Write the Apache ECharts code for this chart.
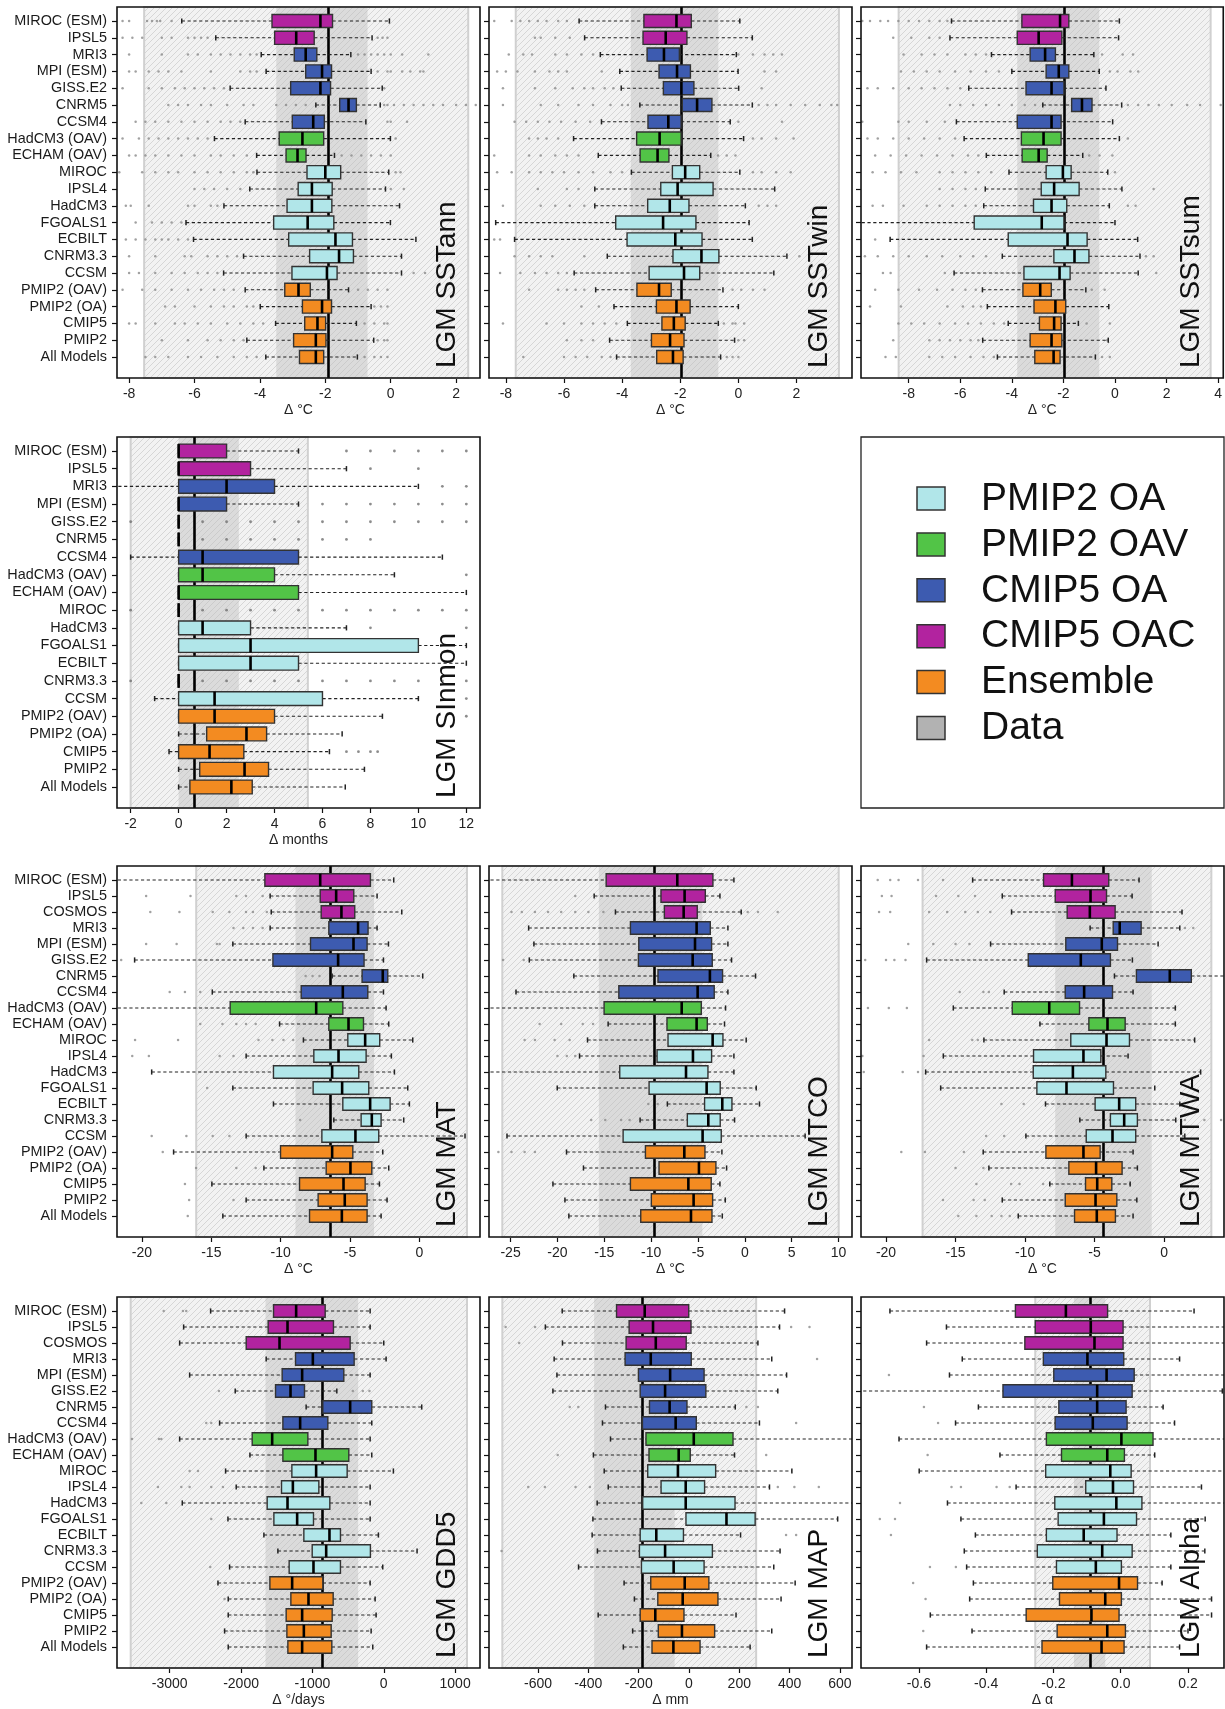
<!DOCTYPE html>
<html><head><meta charset="utf-8">
<script src="https://cdn.jsdelivr.net/npm/echarts@6/dist/echarts.min.js"></script>
<style>html,body{margin:0;padding:0;background:#fff}#c{width:1225px;height:1709px}</style>
</head><body><div id="c"></div>
<script>
// ---------------- categories ----------------
const cats21 = ['MIROC (ESM)','IPSL5','MRI3','MPI (ESM)','GISS.E2','CNRM5','CCSM4','HadCM3 (OAV)','ECHAM (OAV)','MIROC','IPSL4','HadCM3','FGOALS1','ECBILT','CNRM3.3','CCSM','PMIP2 (OAV)','PMIP2 (OA)','CMIP5','PMIP2','All Models'];
const cats20 = ['MIROC (ESM)','IPSL5','MRI3','MPI (ESM)','GISS.E2','CNRM5','CCSM4','HadCM3 (OAV)','ECHAM (OAV)','MIROC','HadCM3','FGOALS1','ECBILT','CNRM3.3','CCSM','PMIP2 (OAV)','PMIP2 (OA)','CMIP5','PMIP2','All Models'];
const cats22 = ['MIROC (ESM)','IPSL5','COSMOS','MRI3','MPI (ESM)','GISS.E2','CNRM5','CCSM4','HadCM3 (OAV)','ECHAM (OAV)','MIROC','IPSL4','HadCM3','FGOALS1','ECBILT','CNRM3.3','CCSM','PMIP2 (OAV)','PMIP2 (OA)','CMIP5','PMIP2','All Models'];

const legendNames = ['PMIP2 OA','PMIP2 OAV','CMIP5 OA','CMIP5 OAC','Ensemble','Data'];
const groupOf = {
  'MIROC (ESM)':'CMIP5 OAC','IPSL5':'CMIP5 OAC','COSMOS':'CMIP5 OAC',
  'MRI3':'CMIP5 OA','MPI (ESM)':'CMIP5 OA','GISS.E2':'CMIP5 OA','CNRM5':'CMIP5 OA','CCSM4':'CMIP5 OA',
  'HadCM3 (OAV)':'PMIP2 OAV','ECHAM (OAV)':'PMIP2 OAV',
  'MIROC':'PMIP2 OA','IPSL4':'PMIP2 OA','HadCM3':'PMIP2 OA','FGOALS1':'PMIP2 OA','ECBILT':'PMIP2 OA','CNRM3.3':'PMIP2 OA','CCSM':'PMIP2 OA',
  'PMIP2 (OAV)':'Ensemble','PMIP2 (OA)':'Ensemble','CMIP5':'Ensemble','PMIP2':'Ensemble','All Models':'Ensemble'
};

// ---------------- panel texts ----------------
const panelLabels = ['LGM SSTann','LGM SSTwin','LGM SSTsum','LGM SInmon','LGM MAT','LGM MTCO','LGM MTWA','LGM GDD5','LGM MAP','LGM Alpha'];
const axisTitles = ['Δ °C','Δ °C','Δ °C','Δ months','Δ °C','Δ °C','Δ °C','Δ °/days','Δ mm','Δ α'];

// ---------------- tick labels & axis extents ----------------
const sstannTicks = [-8,-6,-4,-2,0,2];
const sstwinTicks = [-8,-6,-4,-2,0,2];
const sstsumTicks = [-8,-6,-4,-2,0,2,4];
const sinmonTicks = [-2,0,2,4,6,8,10,12];
const matTicks = [-20,-15,-10,-5,0];
const mtcoTicks = [-25,-20,-15,-10,-5,0,5,10];
const mtwaTicks = [-20,-15,-10,-5,0];
const gdd5Ticks = [-3000,-2000,-1000,0,1000];
const mapTicks = [-600,-400,-200,0,200,400,600];
const alphaTicks = [-0.6,-0.4,-0.2,0.0,0.2];

const sstannExtent = [-8.37, 2.73];
const sstwinExtent = [-8.58, 3.91];
const sstsumExtent = [-9.85, 4.20];
const sinmonExtent = [-2.57, 12.57];
const matExtent = [-21.8, 4.37];
const mtcoExtent = [-27.3, 11.43];
const mtwaExtent = [-21.8, 4.31];
const gdd5Extent = [-3739, 1349];
const mapExtent = [-795, 648];
const alphaExtent = [-0.772, 0.307];

// ---------------- proxy data (range, inter-quartile band, median) ----------------
const sstannObs = [-7.54, -3.50, -1.90, -0.71, 2.37];
const sstwinObs = [-7.66, -3.70, -1.96, -0.69, 3.46];
const sstsumObs = [-8.39, -3.79, -1.96, -0.61, 3.71];
const sinmonObs = [-2.0, 0, 0.67, 2.51, 5.39];
const matObs = [-16.09, -8.93, -6.43, -3.27, 3.43];
const mtcoObs = [-25.88, -15.58, -9.62, -4.54, 10.01];
const mtwaObs = [-17.37, -7.83, -4.34, -0.89, 3.40];
const gdd5Obs = [-3547, -1657, -863, -359, 1167];
const mapObs = [-742, -377, -185, -57, 267];
const alphaObs = [-0.254, -0.139, -0.091, -0.046, 0.087];

// ---------------- model box stats: [low whisker, Q1, median, Q3, high whisker] ----------------
const sstannStats = [
 [-6.39,-3.63,-2.15,-1.78,-0.04],[-5.35,-3.55,-2.89,-2.34,-0.57],[-3.96,-2.95,-2.60,-2.26,-1.22],[-3.81,-2.60,-2.10,-1.81,-0.60],
 [-4.91,-3.06,-2.15,-1.84,-0.26],[-2.29,-1.56,-1.29,-1.05,-0.32],[-4.45,-3.01,-2.37,-2.03,-0.76],[-5.39,-3.41,-2.70,-2.05,-0.01],
 [-4.10,-3.20,-2.85,-2.59,-1.72],[-4.09,-2.56,-2.00,-1.53,-0.06],[-4.31,-2.83,-2.41,-1.79,-0.16],[-5.10,-3.17,-2.41,-1.80,0.27],
 [-6.26,-3.58,-2.54,-1.74,-0.01],[-6.03,-3.12,-1.69,-1.17,0.77],[-4.50,-2.48,-1.58,-1.14,0.33],[-5.11,-3.02,-1.95,-1.64,0.33],
 [-4.45,-3.24,-2.82,-2.46,-1.29],[-3.99,-2.70,-2.10,-1.81,-0.60],[-3.52,-2.63,-2.24,-1.99,-1.05],[-4.40,-2.97,-2.29,-1.98,-0.52],
 [-3.82,-2.79,-2.29,-2.05,-1.02]];
const sstwinStats = [
 [-5.48,-3.25,-2.13,-1.62,0.05],[-5.29,-3.28,-2.50,-1.77,0.48],[-4.75,-3.14,-2.56,-2.03,-0.07],[-4.08,-2.73,-2.11,-1.65,-0.01],
 [-4.03,-2.58,-1.96,-1.53,0.01],[-3.39,-1.93,-1.42,-0.91,0.48],[-4.71,-3.11,-2.41,-1.97,-0.28],[-5.67,-3.50,-2.71,-1.97,0.18],
 [-4.82,-3.38,-2.78,-2.39,-0.95],[-3.68,-2.27,-1.83,-1.33,0.05],[-4.94,-2.67,-2.09,-0.87,1.25],[-4.94,-3.12,-2.36,-1.70,0.24],
 [-8.35,-4.22,-2.59,-1.46,0.37],[-7.70,-3.83,-2.17,-1.25,0.48],[-4.51,-2.25,-1.27,-0.67,1.67],[-5.65,-3.07,-1.87,-1.33,1.22],
 [-4.91,-3.49,-2.73,-2.31,-0.53],[-4.28,-2.82,-2.13,-1.66,0.00],[-3.82,-2.63,-2.22,-1.83,-0.69],[-4.43,-2.99,-2.35,-1.87,-0.13],
 [-4.19,-2.81,-2.25,-1.90,-0.61]];
const sstsumStats = [
 [-6.34,-3.61,-2.13,-1.79,0.17],[-6.40,-3.79,-2.96,-2.06,0.14],[-4.79,-3.29,-2.71,-2.31,-0.82],[-4.00,-2.67,-2.18,-1.79,-0.61],
 [-5.67,-3.45,-2.46,-1.98,-0.35],[-2.80,-1.68,-1.28,-0.89,0.26],[-6.15,-3.79,-2.46,-2.09,-0.09],[-5.85,-3.63,-2.77,-2.09,0.17],
 [-4.99,-3.60,-2.96,-2.63,-1.25],[-4.11,-2.67,-2.02,-1.70,-0.28],[-5.03,-2.86,-2.36,-1.39,0.27],[-5.09,-3.16,-2.46,-1.87,-0.22],
 [-10.5,-5.46,-2.84,-1.98,0.00],[-8.72,-4.14,-1.84,-1.08,0.88],[-4.37,-2.37,-1.57,-1.01,0.97],[-6.24,-3.53,-2.15,-1.74,0.90],
 [-5.14,-3.57,-2.90,-2.47,-1.13],[-4.95,-3.14,-2.31,-1.91,-0.24],[-4.14,-2.93,-2.36,-2.09,-1.42],[-5.13,-3.29,-2.46,-2.06,-0.26],
 [-4.56,-3.11,-2.38,-2.13,-0.76]];
const sinmonStats = [
 [0,0,0,2,5],[0,0,0,3,7],[-3,0,2,4,10],[0,0,0,2,5],[0,0,0,0,0],[0,0,0,0,0],[-2,0,1,5,11],[0,0,1,4,9],[0,0,0,5,12],[0,0,0,0,0],
 [0,0,1,3,7],[0,0,3,10,12],[0,0,3,5,12],[0,0,0,0,0],[-1,0,1.5,6,10],[0,0,1.5,4,8.5],[0,1.17,2.83,3.67,6.82],[-0.4,0,1.29,2.72,6.29],
 [0,0.88,2.75,3.75,7.75],[0,0.47,2.2,3.07,6.95]];
const matStats = [
 [-23,-11.14,-7.15,-3.53,-1.85],[-10.76,-7.15,-6.00,-4.73,-3.05],[-10.68,-7.08,-5.62,-4.66,-1.27],[-10.76,-6.53,-4.42,-3.70,-3.05],
 [-13.45,-7.85,-4.75,-3.77,-2.23],[-20.53,-10.56,-5.86,-3.99,-2.59],[-6.29,-4.13,-2.64,-2.28,0.24],[-14.93,-8.52,-5.52,-3.72,-2.59],
 [-23,-13.64,-7.44,-5.52,-2.40],[-10.08,-6.53,-5.11,-4.03,-2.21],[-8.36,-5.16,-3.91,-2.86,-0.48],[-12.49,-7.61,-5.83,-3.84,-2.02],
 [-19.30,-10.52,-6.29,-4.37,-1.80],[-13.45,-7.66,-5.57,-3.65,-0.84],[-10.52,-5.52,-3.55,-2.11,-0.72],[-6.17,-4.20,-3.43,-2.76,-1.13],
 [-12.49,-7.03,-4.61,-2.93,3.29],[-17.72,-10.01,-6.29,-4.80,-2.64],[-11.21,-6.72,-4.97,-3.43,-2.21],[-14.96,-8.64,-5.47,-3.91,-2.88],
 [-12.49,-7.30,-5.38,-3.77,-2.33],[-14.17,-7.92,-5.59,-3.77,-2.76]];
const mtcoStats = [
 [-29,-14.80,-7.21,-3.41,-1.17],[-16.08,-8.95,-6.43,-4.22,-2.66],[-13.81,-8.59,-6.53,-5.08,-0.39],[-23.07,-12.21,-5.15,-3.69,-1.81],
 [-22.51,-11.32,-5.32,-3.55,-1.81],[-23.00,-11.36,-5.57,-3.48,-1.42],[-18.25,-9.27,-3.73,-2.38,1.14],[-24.42,-13.45,-5.04,-3.27,-1.81],
 [-29,-15.02,-6.74,-4.65,-2.06],[-14.59,-8.31,-5.15,-4.01,-2.17],[-16.79,-8.20,-3.44,-2.34,0.14],[-17.64,-9.37,-5.54,-3.55,-1.17],
 [-29,-13.35,-6.28,-3.94,-1.17],[-20.02,-10.22,-4.08,-2.63,1.21],[-8.27,-4.30,-2.41,-1.38,1.56],[-11.18,-6.14,-3.90,-2.63,-1.10],
 [-25.38,-12.99,-4.51,-2.52,6.43],[-19.03,-10.61,-6.46,-4.26,-2.45],[-17.22,-9.16,-4.90,-3.09,-1.95],[-20.48,-12.21,-6.03,-3.59,-2.66],
 [-19.20,-9.98,-5.47,-3.44,-2.09],[-18.78,-11.11,-5.75,-3.51,-2.41]];
const mtwaStats = [
 [-13.77,-8.67,-6.63,-3.98,-1.80],[-11.64,-7.83,-5.29,-4.14,-2.30],[-10.97,-6.97,-5.34,-3.52,1.29],[-5.32,-3.66,-3.19,-1.65,1.13],
 [-12.48,-7.07,-4.48,-3.35,-0.43],[-17.08,-9.77,-5.99,-3.86,-2.28],[-3.57,-1.99,0.41,1.96,5.0],[-11.50,-7.11,-5.75,-3.71,-2.23],
 [-15.16,-10.92,-8.26,-6.08,0.81],[-8.93,-5.41,-4.07,-2.80,0.81],[-12.96,-6.71,-4.14,-2.49,2.20],[-15.88,-9.39,-5.80,-4.55,-2.59],
 [-17.15,-9.41,-6.56,-4.19,2.63],[-16.07,-9.15,-7.02,-3.64,-0.67],[-8.53,-4.96,-3.23,-2.04,1.13],[-6.06,-3.86,-2.87,-1.92,0.84],
 [-9.94,-5.60,-3.71,-2.04,1.49],[-13.01,-8.50,-5.80,-4.60,-2.23],[-12.60,-6.85,-4.89,-3.02,-1.92],[-8.22,-5.65,-4.81,-3.76,-2.44],
 [-11.64,-7.11,-4.93,-3.40,-1.96],[-10.49,-6.44,-4.84,-3.50,-2.23]];
const gdd5Stats = [
 [-2427,-1545,-1228,-821,-191],[-2805,-1620,-1349,-705,-191],[-2861,-1928,-1461,-471,0],[-1648,-1237,-994,-415,33],
 [-2721,-1424,-1144,-560,-191],[-2082,-1517,-1307,-1111,-658],[-1088,-854,-471,-168,532],[-2301,-1414,-1172,-784,-168],
 [-2861,-1844,-1564,-1064,-191],[-1876,-1414,-957,-490,-168],[-2217,-1288,-948,-513,135],[-2068,-1433,-1274,-910,-191],
 [-2824,-1634,-1349,-756,-191],[-2184,-1540,-1214,-985,-191],[-1680,-1120,-761,-607,-75],[-1484,-1003,-807,-187,467],
 [-2161,-1326,-985,-607,-14],[-2324,-1596,-1284,-854,-191],[-2180,-1302,-1055,-709,-121],[-2180,-1368,-1144,-723,-107],
 [-2231,-1358,-1120,-737,-177],[-2180,-1344,-1144,-728,-154]];
const mapStats = [
 [-504,-288,-176,-1,380],[-571,-238,-143,8,360],[-503,-250,-132,-11,274],[-536,-254,-152,9,329],
 [-525,-201,-75,60,388],[-541,-194,-95,67,353],[-332,-157,-77,-8,184],[-344,-185,-53,29,280],
 [-312,-171,19,175,720],[-380,-159,-41,5,181],[-337,-164,-44,106,409],[-321,-111,-13,62,320],
 [-365,-184,-13,183,720],[-382,-12,149,263,591],[-385,-194,-130,-22,205],[-364,-197,-95,93,362],
 [-439,-189,-61,60,337],[-258,-152,-17,79,422],[-217,-124,-25,115,366],[-361,-194,-134,-20,187],
 [-224,-122,-28,102,329],[-261,-147,-62,44,243]];
const alphaStats = [
 [-0.686,-0.313,-0.163,-0.039,0.218],[-0.518,-0.254,-0.089,0.007,0.35],[-0.577,-0.285,-0.078,0.007,0.35],[-0.471,-0.230,-0.099,0.009,0.175],
 [-0.509,-0.199,-0.042,0.040,0.35],[-0.80,-0.350,-0.070,0.034,0.302],[-0.423,-0.184,-0.070,0.016,0.126],[-0.491,-0.195,-0.083,0.019,0.160],
 [-0.659,-0.221,0.002,0.096,0.35],[-0.359,-0.176,-0.040,0.011,0.101],[-0.599,-0.223,-0.031,0.031,0.35],[-0.311,-0.104,-0.023,0.038,0.240],
 [-0.515,-0.196,-0.013,0.063,0.35],[-0.475,-0.186,-0.050,0.047,0.251],[-0.432,-0.221,-0.110,-0.011,0.149],[-0.465,-0.248,-0.055,0.034,0.25],
 [-0.458,-0.191,-0.074,0.002,0.149],[-0.438,-0.202,-0.005,0.050,0.123],[-0.449,-0.182,-0.046,0.002,0.27],[-0.566,-0.281,-0.087,-0.005,0.27],
 [-0.442,-0.189,-0.040,0.014,0.200],[-0.577,-0.234,-0.057,0.010,0.175]];

// ---------------- outliers (per row) ----------------
const sstannOut = [
 [-8.2,-8.0,-7.45,-7.3,-7.15,-7.05,-6.7],[-8.2,-7.9,-7.6,-7.0,-6.7,-6.2,-6.0,-5.8,-5.6,-0.4,-0.25,-0.1],
 [-8.0,-7.0,-6.2,-5.9,-5.5,-5.2,-4.9,-4.6,-4.3,-4.1,-1.0,-0.8,-0.6,-0.4,-0.2,0.0,0.35,1.15],
 [-8.0,-7.8,-7.4,-7.1,-6.8,-6.4,-5.5,-4.6,-4.3,-4.1,-0.4,-0.1,0.0,0.35,0.6,0.9,1.0],
 [-8.2,-7.4,-7.0,-6.6,-6.3,-6.0,-5.7,-5.4,-5.1,-0.2],
 [-6.8,-6.5,-6.2,-5.8,-5.5,-5.0,-4.5,-4.2,-3.5,-3.2,-2.9,-2.6,-0.2,-0.1,0.1,0.4,0.7,1.0,1.3,1.6,2.0,2.3,2.6],
 [-7.8,-7.5,-7.2,-6.8,-6.4,-6.0,-5.6,-5.2,-4.9,-4.6,-0.1,0.0,0.5],[-8.2,-7.7,-7.4,-7.1,-6.8,-6.5,-6.2,-5.9,-5.6,0.15],
 [-8.0,-7.8,-7.5,-7.2,-6.8,-6.4,-6.0,-5.5,-5.2,-4.8,-4.4,-1.5,-1.2,-0.9,-0.6,-0.3,0.0],
 [-8.3,-7.6,-7.2,-6.8,-6.5,-6.0,-5.6,-5.2,-4.8,-4.4,-4.2,0.15,0.3],[-6.0,-5.7,-5.4,-5.0,-4.6,0.0,0.4],
 [-8.1,-7.95,-7.4,-6.2,-6.0,-5.5,-5.3],[-7.8,-7.3,-7.0,-6.7,-6.4],[-8.1,-7.8,-7.5,-7.2,-7.0,-6.8,-6.5,-6.2],
 [-8.0,-7.2,-6.3,-6.1,-5.6,-5.3,-5.0,-4.7],[-8.0,-7.7,-7.2,-6.7,-6.3,-5.9,-5.6,-5.3,0.7,1.05],
 [-8.2,-7.6,-7.2,-6.7,-6.2,-5.8,-5.4,-5.1,-4.8,-1.0,-0.7,-0.4,-0.1],[-6.9,-6.6,-6.0,-5.5,-5.1,-4.8,-4.4,-4.2,-0.5,-0.3,-0.1],
 [-8.0,-7.8,-7.2,-6.6,-6.3,-5.9,-5.5,-5.0,-4.6,-4.2,-3.9,-0.8,-0.5,-0.2,-0.1],[-7.0,-6.2,-5.6,-5.2,-4.8,-4.5,-0.4,-0.2,-0.1],
 [-7.5,-7.2,-6.8,-6.2,-5.8,-5.3,-4.8,-4.4,-4.1,-0.8,-0.5,-0.3,-0.1]];
const sstwinOut = [
 [-8.4,-7.8,-7.5,-7.2,-6.9,-6.6,-6.2,-5.9],[-7.0,-6.8,-6.3,-5.8],[-7.9,-7.4,-7.1,-6.3,-5.9,-5.4,-5.0,0.0,0.5,0.9,1.2,1.5],
 [-8.3,-8.0,-7.6,-7.0,-6.5,-6.2,-5.9,-4.7,0.9,1.3],[-8.1,-7.0,-6.3,-5.7,-5.3,-5.0,-4.6,-4.3,0.8],
 [-8.1,-6.8,-6.2,-5.5,-5.0,-4.4,-4.0,-3.8,0.7,1.0,1.3,1.8,2.3,2.8,3.2,3.4],[-7.7,-7.3,-6.9,-6.5,-6.1,-5.6,-5.1,0.0,1.5],
 [-7.2,-6.9,-6.6,-6.2,0.5,0.8,1.3,1.9],[-8.4,-7.2,-6.8,-6.3,-5.9,-5.5,-0.7,-0.4,-0.1],
 [-8.3,-7.8,-7.2,-6.8,-6.4,-6.0,-5.5,-5.0,-4.4,-4.0,0.5,0.8,1.3,1.8],[-6.9,-5.9,-5.5],[-8.1,-6.8,-6.3,-5.8,-5.3,0.7,1.0,1.3],
 [],[-8.4,-8.2],[-7.7,-7.2,-6.8,-6.4,-5.3,2.1],[-8.2,-7.5,-7.0,-6.6,-6.2,-5.9],[-7.2,-6.2,-5.9,-5.6,-5.3,-0.2,0.1,0.5,0.9],
 [-5.4,-4.8],[-8.1,-6.6,-6.0,-5.4,-5.0,-4.6,-4.2,-0.5,-0.2,-0.1,0.2],[-5.9,-5.4,-5.0,0.0,0.2],[-7.4,-6.0,-5.6,-5.2,-4.7,-4.4,-0.4,-0.2,0.0]];
const sstsumOut = [
 [-9.8,-9.5,-9.1,-8.8,-8.4,-8.0,-7.6,-7.2,-6.8,-6.5],[-8.6,-7.9,-7.2,-6.8],[-8.2,-7.5,-7.0,-6.5,-5.8,-5.4,-5.0,-0.5,0.3,0.7],
 [-8.3,-7.8,-7.3,-6.8,-6.2,-5.6,-5.0,-4.5,-0.2,0.1,0.6,0.9],[-9.6,-9.2,-8.6,-8.0,-7.5,-7.0,-6.5,-6.0],
 [-6.4,-6.0,-5.5,-5.0,-4.5,-4.0,-3.5,-3.1,0.5,0.9,1.3,1.7,2.2,2.8,3.3,4.1],[-9.8,-8.4,-8.0,-7.3,-6.6],
 [-9.6,-9.2,-8.6,-8.0,-7.4,-6.8,-6.2,0.5],[-9.3,-8.7,-8.1,-7.5,-6.9,-6.3,-5.7,-5.3,-1.0,-0.6,-0.1],
 [-9.4,-8.9,-8.3,-7.7,-6.8,-6.3,-5.8,-5.3,-4.8,0.0],[-6.8,-6.3,-5.8,-5.4,1.5],[-9.4,-9.0,-8.2,-7.3,-6.8,-6.3,-5.8,-5.4,0.5,0.8],
 [],[-9.3],[-9.7,-9.2,-8.6,-8.0,-7.3,-6.7,-6.0,-5.5,-5.0,1.2,1.5],[-9.0,-8.7,-6.6,1.6],[-9.3,-8.4,-7.6,-6.9,-6.3,-5.8,-5.4,-0.9,-0.4],
 [-9.5,-8.3,-6.5,-5.9,-5.5,-5.2],[-8.4,-7.9,-7.4,-6.8,-6.2,-5.7,-5.2,-4.7,-4.3,-1.1,-0.2],[-8.6,-7.2,-6.8,-6.4,-6.0,-5.6,-5.3,-0.3],
 [-8.9,-8.5,-7.2,-6.7,-6.2,-5.6,-5.1,-4.7,-0.5,-0.2]];
const sinmonOut = [
 [7,8,9,10,11,12],[8,10],[11,12],[6,7,8,9,10,11,12],[-2,1,2,3,4,5,6,7,8,9,10,11,12],[1,2,3,4,5,6,7,8],[],[12],[],
 [-2,1,2,3,4,5,6,7,8,9,10,11,12],[8,12],[],[],[-2,1,2,3,4,5,6,7,8,9,10,11,12],[12],[12],[],[7,7.5,8,8.3],[],[]];
const matOut = [
 [],[-19.7,-16.5,-13.2,-12.5,-11.3],[-19.4,-17.3,-14.9,-13.7,-12.5,-12.0,-11.0],[-13.4,-12.7,-12.0,-11.3],[-19.7,-17.5,-14.6,-14.4],
 [-21.5],[-8.2,-7.7,-7.2],[-18.0,-16.9,-15.8],[],[-15.8,-14.2,-13.2,-12.5,-11.8],[-20.5,-17.4,-11.6,-10.6,-9.8,-9.1],
 [-20.7,-19.5,-14.4,-13.4],[],[-15.3],[],[-8.6],[-19.3,-16.8,-14.9,-13.7],[-18.5],[-16.1,-13.2,-11.8],[-16.9],[-16.6,-13.4],[-16.7]];
const mtcoOut = [
 [],[-18.1],[-24.9,-23.8,-22.4,-21.0,-19.6,-18.1,-16.7,-15.1,0.3,1.4,3.5],[],[],[-25.8,-23.6],[],[],[],
 [-21.9,-19.6,-17.3,-16.2],[-23.5,-22.4,-20.3,-18.7],[-20.0,-19.0,-18.1],[],[],[-10.3,-9.3],[-16.4,-14.9,-13.2,-12.3],[],
 [-26.3,-24.9,-23.5,-22.4],[],[],[],[]];
const mtwaOut = [
 [-20.6,-19.7,-19.1,-17.7,-15.9],[-20.3,-19.6,-16.4,-14.8,-13.6],[-20.5,-19.7,-16.9,-15.6,-14.3,-13.4,-12.5],[1.5,2.1],
 [-18.4,-16.6,-15.0,-14.0],[-21.5,-20.0,-19.4,-18.6],[],[-14.7,-13.0,-12.6],[-21.3,-19.8,-18.5],[],[-16.9,-13.8,-13.4],
 [-21.7,-17.3],[-21.6,-18.8,-17.7],[],[-11.7,-10.1],[1.5,2.9,4.1],[-12.8,-11.5],[-18.9,-17.2,-14.4],[-15.0,-13.0],
 [-13.5,-11.0,-10.4,-8.7],[-15.9,-13.7,-12.9],[-14.8,-13.5,-12.4,-11.7,-11.1]];
const gdd5Out = [
 [-3085,-2815,-2768],[],[],[],[],[-2310,-434,-294,-201],[],[-2488,-2418],[-3529,-3151,-3118],[],[-2721,-2604],
 [-3165,-2838,-2721,-2418,-2254],[-3398,-3048],[-2418],[],[],[-2432],[],[-2231],[],[],[]];
const mapOut = [
 [],[-729,-612,406,479],[-675],[509],[],[],[-474,-440,228,274],[426],[],[-522,307],[],[-639,-573,-451,-394,353,419,516],
 [],[],[386,426],[-745],[],[],[],[],[],[]];
const alphaOut = [
 [],[],[],[],[-0.689],[],[-0.585],[-0.543],[],[-0.574],[],[-0.503,-0.475,-0.369,-0.330],[-0.656],[-0.716,-0.671],
 [-0.683],[],[-0.567,-0.490],[-0.617],[-0.580],[],[-0.587],[]];

// ---------------- assembly ----------------
const panels = [
  {cats:cats21, stats:sstannStats, out:sstannOut, ticks:sstannTicks, ext:sstannExtent, obs:sstannObs},
  {cats:cats21, stats:sstwinStats, out:sstwinOut, ticks:sstwinTicks, ext:sstwinExtent, obs:sstwinObs},
  {cats:cats21, stats:sstsumStats, out:sstsumOut, ticks:sstsumTicks, ext:sstsumExtent, obs:sstsumObs},
  {cats:cats20, stats:sinmonStats, out:sinmonOut, ticks:sinmonTicks, ext:sinmonExtent, obs:sinmonObs},
  {cats:cats22, stats:matStats, out:matOut, ticks:matTicks, ext:matExtent, obs:matObs},
  {cats:cats22, stats:mtcoStats, out:mtcoOut, ticks:mtcoTicks, ext:mtcoExtent, obs:mtcoObs},
  {cats:cats22, stats:mtwaStats, out:mtwaOut, ticks:mtwaTicks, ext:mtwaExtent, obs:mtwaObs},
  {cats:cats22, stats:gdd5Stats, out:gdd5Out, ticks:gdd5Ticks, ext:gdd5Extent, obs:gdd5Obs},
  {cats:cats22, stats:mapStats, out:mapOut, ticks:mapTicks, ext:mapExtent, obs:mapObs},
  {cats:cats22, stats:alphaStats, out:alphaOut, ticks:alphaTicks, ext:alphaExtent, obs:alphaObs}
];

const groupColors = {'PMIP2 OA':'#b1e6e9','PMIP2 OAV':'#52c447','CMIP5 OA':'#3d5bb0','CMIP5 OAC':'#b2239f','Ensemble':'#f38b21','Data':'#b2b2b2'};
const FONT = '"Liberation Sans", Arial, sans-serif';
const colX = [117, 489, 861], rowY = [7, 437, 866, 1297];
const PW = 363, PH = 371;
const cells = [[0,0],[1,0],[2,0],[0,1],[0,2],[1,2],[2,2],[0,3],[1,3],[2,3]];

function hatch(bg, fg) {
  const c = document.createElement('canvas'); c.width = 6; c.height = 6;
  const g = c.getContext('2d'); g.fillStyle = bg; g.fillRect(0,0,6,6);
  g.strokeStyle = fg; g.lineWidth = 1;
  g.beginPath(); g.moveTo(-1,7); g.lineTo(7,-1); g.moveTo(-1,1); g.lineTo(1,-1); g.moveTo(5,7); g.lineTo(7,5); g.stroke();
  return {image: c, repeat: 'repeat'};
}
const lightHatch = hatch('#f2f2f2', '#d6d6d6');
const darkHatch = hatch('#dbdbdb', '#cbcbcb');

const grids = [], xAxes = [], yAxes = [], series = [], graphics = [];

function renderBox(params, api) {
  const row = api.value(0);
  const lo = api.coord([api.value(1), row]);
  const q1 = api.coord([api.value(2), row]);
  const md = api.coord([api.value(3), row]);
  const q3 = api.coord([api.value(4), row]);
  const hi = api.coord([api.value(5), row]);
  const color = api.value(6);
  const band = api.size([0, 1])[1];
  const bh = band * 0.78, y = lo[1], cap = 2.6;
  const dash = {stroke:'#222', lineWidth:1.1, lineDash:[3.2,2.6]};
  return {type:'group', children:[
    {type:'line', shape:{x1:lo[0], y1:y, x2:q1[0], y2:y}, style:dash},
    {type:'line', shape:{x1:q3[0], y1:y, x2:hi[0], y2:y}, style:dash},
    {type:'line', shape:{x1:lo[0], y1:y-cap, x2:lo[0], y2:y+cap}, style:{stroke:'#222', lineWidth:1.5}},
    {type:'line', shape:{x1:hi[0], y1:y-cap, x2:hi[0], y2:y+cap}, style:{stroke:'#222', lineWidth:1.5}},
    {type:'rect', shape:{x:q1[0], y:y-bh/2, width:q3[0]-q1[0], height:bh}, style:{fill:color, stroke:'#333', lineWidth:1.4}},
    {type:'line', shape:{x1:md[0], y1:y-bh/2, x2:md[0], y2:y+bh/2}, style:{stroke:'#000', lineWidth:2.6}}
  ]};
}

panels.forEach((p, i) => {
  const [cx, ry] = cells[i];
  const left = colX[cx], top = rowY[ry];
  const n = p.cats.length;
  const s = (PH - 35) / (n - 1);
  grids.push({left, top, width: PW, height: PH, show: true, borderColor: '#111', borderWidth: 1.6,
    backgroundColor: 'rgba(0,0,0,0)', z: 10});
  const isAlpha = i === 9;
  xAxes.push({type:'value', gridIndex:i, min:p.ext[0], max:p.ext[1], position:'bottom',
    axisLine:{show:false, onZero:false}, splitLine:{show:false},
    axisTick:{show:true, length:5, customValues:p.ticks, lineStyle:{color:'#111', width:1.2}},
    axisLabel:{show:true, customValues:p.ticks, margin:9, fontSize:14, color:'#222', fontFamily:FONT,
      formatter: v => isAlpha ? v.toFixed(1) : String(v)},
    name: axisTitles[i], nameLocation:'middle', nameGap:25,
    nameTextStyle:{fontSize:14, color:'#222', fontFamily:FONT}});
  const idx = p.cats.map((_, k) => k);
  yAxes.push({type:'value', gridIndex:i, inverse:true, min:-14/s, max:(n-1)+21/s, position:'left',
    axisLine:{show:false, onZero:false}, splitLine:{show:false},
    axisTick:{show:true, length:5, customValues:idx, lineStyle:{color:'#111', width:1.2}},
    axisLabel:{show: cx === 0, customValues:idx, margin:10, fontSize:14.4, color:'#1a1a1a', fontFamily:FONT,
      formatter: v => p.cats[Math.round(v)]}});
  const outData = [];
  p.out.forEach((arr, r) => arr.forEach(v => outData.push([v, r])));
  series.push({type:'scatter', xAxisIndex:i, yAxisIndex:i, data:outData, symbol:'circle',
    symbolSize: i === 3 ? 2.8 : 2.5, silent:true, z:2,
    itemStyle:{color: i === 3 ? '#6f6f6f' : '#8a8a8a', opacity:0.8},
    markArea:{silent:true, z:1, data:[
      [{xAxis:p.obs[0], itemStyle:{color:lightHatch, borderColor:'#d0d0d0', borderWidth:2}}, {xAxis:p.obs[4]}],
      [{xAxis:p.obs[1], itemStyle:{color:darkHatch, borderWidth:0}}, {xAxis:p.obs[3]}]
    ]},
    markLine:{silent:true, z:1.5, symbol:['none','none'], label:{show:false},
      lineStyle:{color:'#000', width:2.6, type:'solid'}, data:[{xAxis:p.obs[2]}]}
  });
  series.push({type:'custom', xAxisIndex:i, yAxisIndex:i, clip:true, z:3, silent:true,
    renderItem: renderBox,
    encode:{x:[1,2,3,4,5], y:0},
    data: p.stats.map((st, r) => [r, st[0], st[1], st[2], st[3], st[4], groupColors[groupOf[p.cats[r]]]])
  });
  graphics.push({type:'text', x: left + PW - 33, y: top + PH - 10, rotation: Math.PI/2, z: 100,
    style:{text: panelLabels[i], fontSize:28, fontFamily:FONT, fill:'#111', align:'left', verticalAlign:'middle'}});
});

graphics.push({type:'rect', shape:{x:861, y:437, width:PW, height:PH}, style:{fill:'#fff', stroke:'#222', lineWidth:1.3}, z:0});
legendNames.forEach((nm, k) => {
  const cy = 499 + k * 45.9;
  graphics.push({type:'rect', shape:{x:917, y:cy-12, width:28, height:23}, style:{fill:groupColors[nm], stroke:'#333', lineWidth:1.5}, z:5});
  graphics.push({type:'text', x:981, y:cy, style:{text:nm, fontSize:39, fontFamily:FONT, fill:'#111', align:'left', verticalAlign:'middle'}, z:5});
});

const chart = echarts.init(document.getElementById('c'), null, {renderer:'canvas'});
chart.setOption({animation:false, backgroundColor:'#fff', grid:grids, xAxis:xAxes, yAxis:yAxes, series, graphic:graphics});
</script></body></html>
